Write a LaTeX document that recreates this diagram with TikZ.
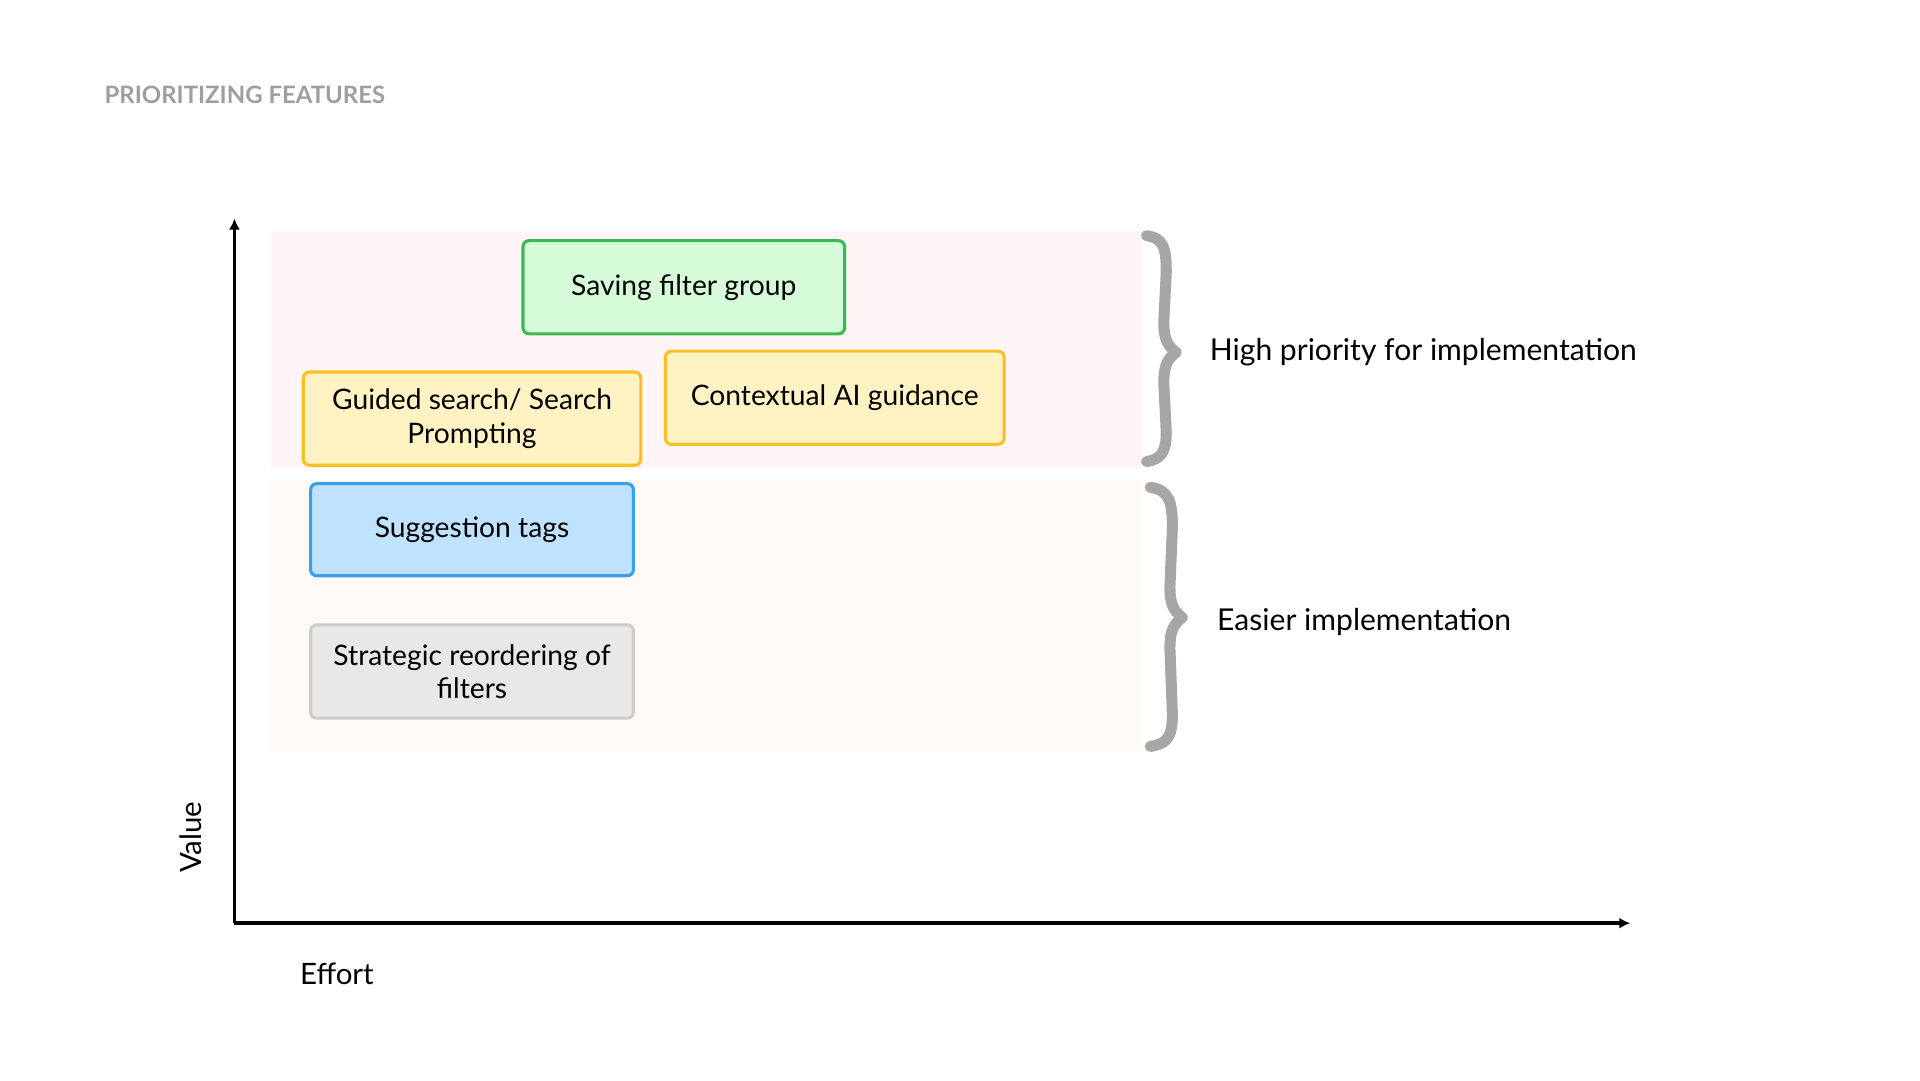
\documentclass[tikz,border=0pt]{standalone}
\usepackage{fontspec}
\setmainfont{Lato}
\usetikzlibrary{arrows.meta}
\begin{document}
\begin{tikzpicture}[x=1pt,y=-1pt,
  feat/.style={draw,line width=2.5pt,rounded corners=5pt,align=center,font=\fontsize{23}{27}\selectfont,inner sep=0pt},
  brace/.style={draw=black!35,line width=9pt,line cap=round,line join=round},
  lbl/.style={font=\fontsize{24.5}{28}\selectfont,anchor=west}]
\useasboundingbox (0,0) rectangle (1564,880);
\definecolor{pinkbg}{HTML}{FFF5F6}\definecolor{beigebg}{HTML}{FFFAF5}
\definecolor{gfill}{HTML}{D5FBD9}\definecolor{gline}{HTML}{3CB853}
\definecolor{yfill}{HTML}{FFF3C4}\definecolor{yline}{HTML}{FBBF24}
\definecolor{bfill}{HTML}{BFE3FE}\definecolor{bline}{HTML}{3B9EEA}
\definecolor{xfill}{HTML}{E8E8E8}\definecolor{xline}{HTML}{CCCCCC}
\node[anchor=west,text=black!38,font=\fontsize{19.5}{22}\selectfont\bfseries,inner sep=0pt] (title) at (85,77) {PRIORITIZING FEATURES};
\fill[pinkbg] (221,188) rectangle (930,381);
\fill[beigebg] (221,391) rectangle (930,612);
\coordinate (o) at (191,752); \coordinate (ytop) at (191,178); \coordinate (xend) at (1328,752);
\draw[line width=3pt,-{Latex[length=9pt,width=9pt]}] (o) -- (ytop);
\draw[line width=3pt,-{Latex[length=9pt,width=9pt]}] (o) -- (xend);
\node[feat,fill=gfill,draw=gline,minimum width=262pt,minimum height=76pt] (sav) at (557,234) {Saving filter group};
\node[feat,fill=yfill,draw=yline,minimum width=275pt,minimum height=76pt] (gui) at (384.5,341) {Guided search/ Search\\Prompting};
\node[feat,fill=yfill,draw=yline,minimum width=276pt,minimum height=76pt] (ctx) at (680,324) {Contextual AI guidance};
\node[feat,fill=bfill,draw=bline,minimum width=263pt,minimum height=75pt] (sug) at (384.5,431.5) {Suggestion tags};
\node[feat,fill=xfill,draw=xline,minimum width=263pt,minimum height=76pt] (str) at (384.5,547) {Strategic reordering of\\filters};
\draw[brace] (934,192) .. controls (948,194) and (950,202) .. (950,222) -- (948,262) .. controls (948,278) and (952,282) .. (958,287)
  .. controls (952,292) and (948,296) .. (948,312) -- (950,352) .. controls (950,368) and (946,374) .. (934,376);
\draw[brace] (937,397) .. controls (953,399) and (955,410) .. (955,430) -- (953,478) .. controls (953,494) and (957,498) .. (963,503)
  .. controls (957,508) and (953,512) .. (953,528) -- (955,582) .. controls (955,600) and (951,606) .. (937,608);
\node[lbl] (hp) at (982,287) {High priority for implementation};
\node[lbl] (ei) at (988,507) {Easier implementation};
\node[font=\fontsize{24}{26}\selectfont,rotate=90] (val) at (155,682) {Value};
\node[lbl,font=\fontsize{24}{26}\selectfont] (eff) at (241,793) {Effort};
\end{tikzpicture}
\end{document}
